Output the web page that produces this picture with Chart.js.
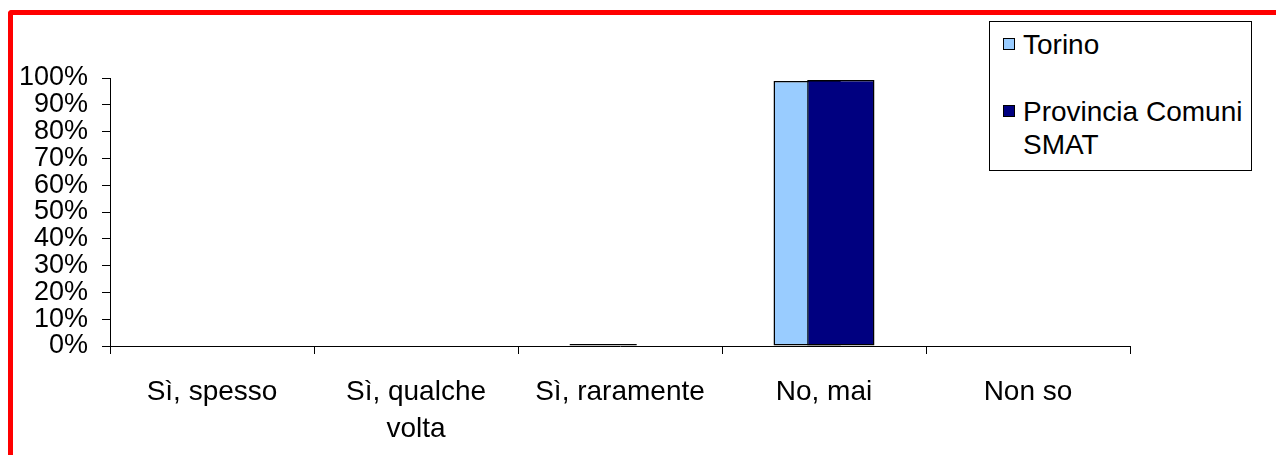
<!DOCTYPE html>
<html>
<head>
<meta charset="utf-8">
<script src="https://cdn.jsdelivr.net/npm/chart.js@4/dist/chart.umd.min.js"></script>
<style>
  html, body { margin: 0; padding: 0; background: #fff; }
  #wrap { position: relative; width: 1276px; height: 455px; overflow: hidden; font-family: 'Liberation Sans', Arial, sans-serif; }
  #frame { position: absolute; left: 8px; top: 10px; right: -10px; bottom: -10px; border-top: 5px solid #ff0000; border-left: 5px solid #ff0000; border-top-left-radius: 4px; }
  #c { position: absolute; left: 0; top: 0; }
  #legend { position: absolute; left: 989px; top: 21px; width: 261px; height: 148px; border: 1.5px solid #000; background: #fff; color: #000; font-size: 28px; }
  .item { position: absolute; left: 33px; line-height: 33px; }
  .sw { position: absolute; left: -20px; width: 10px; height: 10px; border: 1px solid #000; }
</style>
</head>
<body>
<div id="wrap">
  <canvas id="c" width="1276" height="455"></canvas>
  <div id="frame"></div>
  <div id="legend"></div>
</div>
<script>
const categories = ['Sì, spesso', ['Sì, qualche', 'volta'], 'Sì, raramente', 'No, mai', 'Non so'];
const seriesNames = ['Torino', 'Provincia Comuni SMAT'];
const torino = [0, 0, 0.75, 98.9, 0];
const provincia = [0, 0, 0, 99.3, 0];
const yTicks = [0, 10, 20, 30, 40, 50, 60, 70, 80, 90, 100];
const colors = ['#99CCFF', '#000080'];

// HTML legend (multi-line label like the original)
const legend = document.getElementById('legend');
const legendTops = [6, 73];
const legendLines = [['Torino'], ['Provincia Comuni', 'SMAT']];
seriesNames.forEach((name, i) => {
  const it = document.createElement('div');
  it.className = 'item';
  it.style.top = legendTops[i] + 'px';
  const sw = document.createElement('div');
  sw.className = 'sw';
  sw.style.background = colors[i];
  sw.style.top = '10px';
  it.appendChild(sw);
  legendLines[i].forEach((ln, k) => {
    if (k) it.appendChild(document.createElement('br'));
    it.appendChild(document.createTextNode(ln));
  });
  legend.appendChild(it);
});

const FONT = "'Liberation Sans', Arial, sans-serif";
new Chart(document.getElementById('c'), {
  type: 'bar',
  data: {
    labels: categories,
    datasets: [
      { label: seriesNames[0], data: torino, backgroundColor: colors[0], borderColor: '#000', borderWidth: 1.5, borderSkipped: false, stack: 'a', order: 1 },
      { label: seriesNames[1], data: provincia, backgroundColor: colors[1], borderColor: '#000', borderWidth: 1.5, borderSkipped: false, stack: 'b', order: 0 },
      // empty helper so Torino stays left while Provincia is painted on top (Excel overlap)
      { label: '', data: [], stack: 'a', order: -1 }
    ]
  },
  options: {
    responsive: false,
    animation: false,
    devicePixelRatio: 1,
    categoryPercentage: 0.33,
    barPercentage: 2.0,
    layout: { padding: { left: 0, right: 146, top: 78, bottom: 0 } },
    plugins: { legend: { display: false }, tooltip: { enabled: false } },
    scales: {
      x: {
        grid: { display: true, drawOnChartArea: false, drawTicks: true, tickLength: 8, color: '#000', lineWidth: 1, offset: true },
        border: { display: true, color: '#000', width: 1 },
        ticks: { color: '#000', font: { family: FONT, size: 28, lineHeight: 1.32 }, padding: 20, maxRotation: 0, autoSkip: false },
        afterFit: s => { s.height = 109; }
      },
      y: {
        stacked: false,
        min: 0, max: 100,
        afterBuildTicks: s => { s.ticks = yTicks.map(v => ({ value: v })); },
        grid: { display: true, drawOnChartArea: false, drawTicks: true, tickLength: 8, color: '#000', lineWidth: 1 },
        border: { display: true, color: '#000', width: 1 },
        ticks: { color: '#000', font: { family: FONT, size: 27 }, padding: 14, autoSkip: false, stepSize: 10, callback: v => v + '%' },
        afterFit: s => { s.width = 110; }
      }
    }
  }
});
</script>
</body>
</html>
